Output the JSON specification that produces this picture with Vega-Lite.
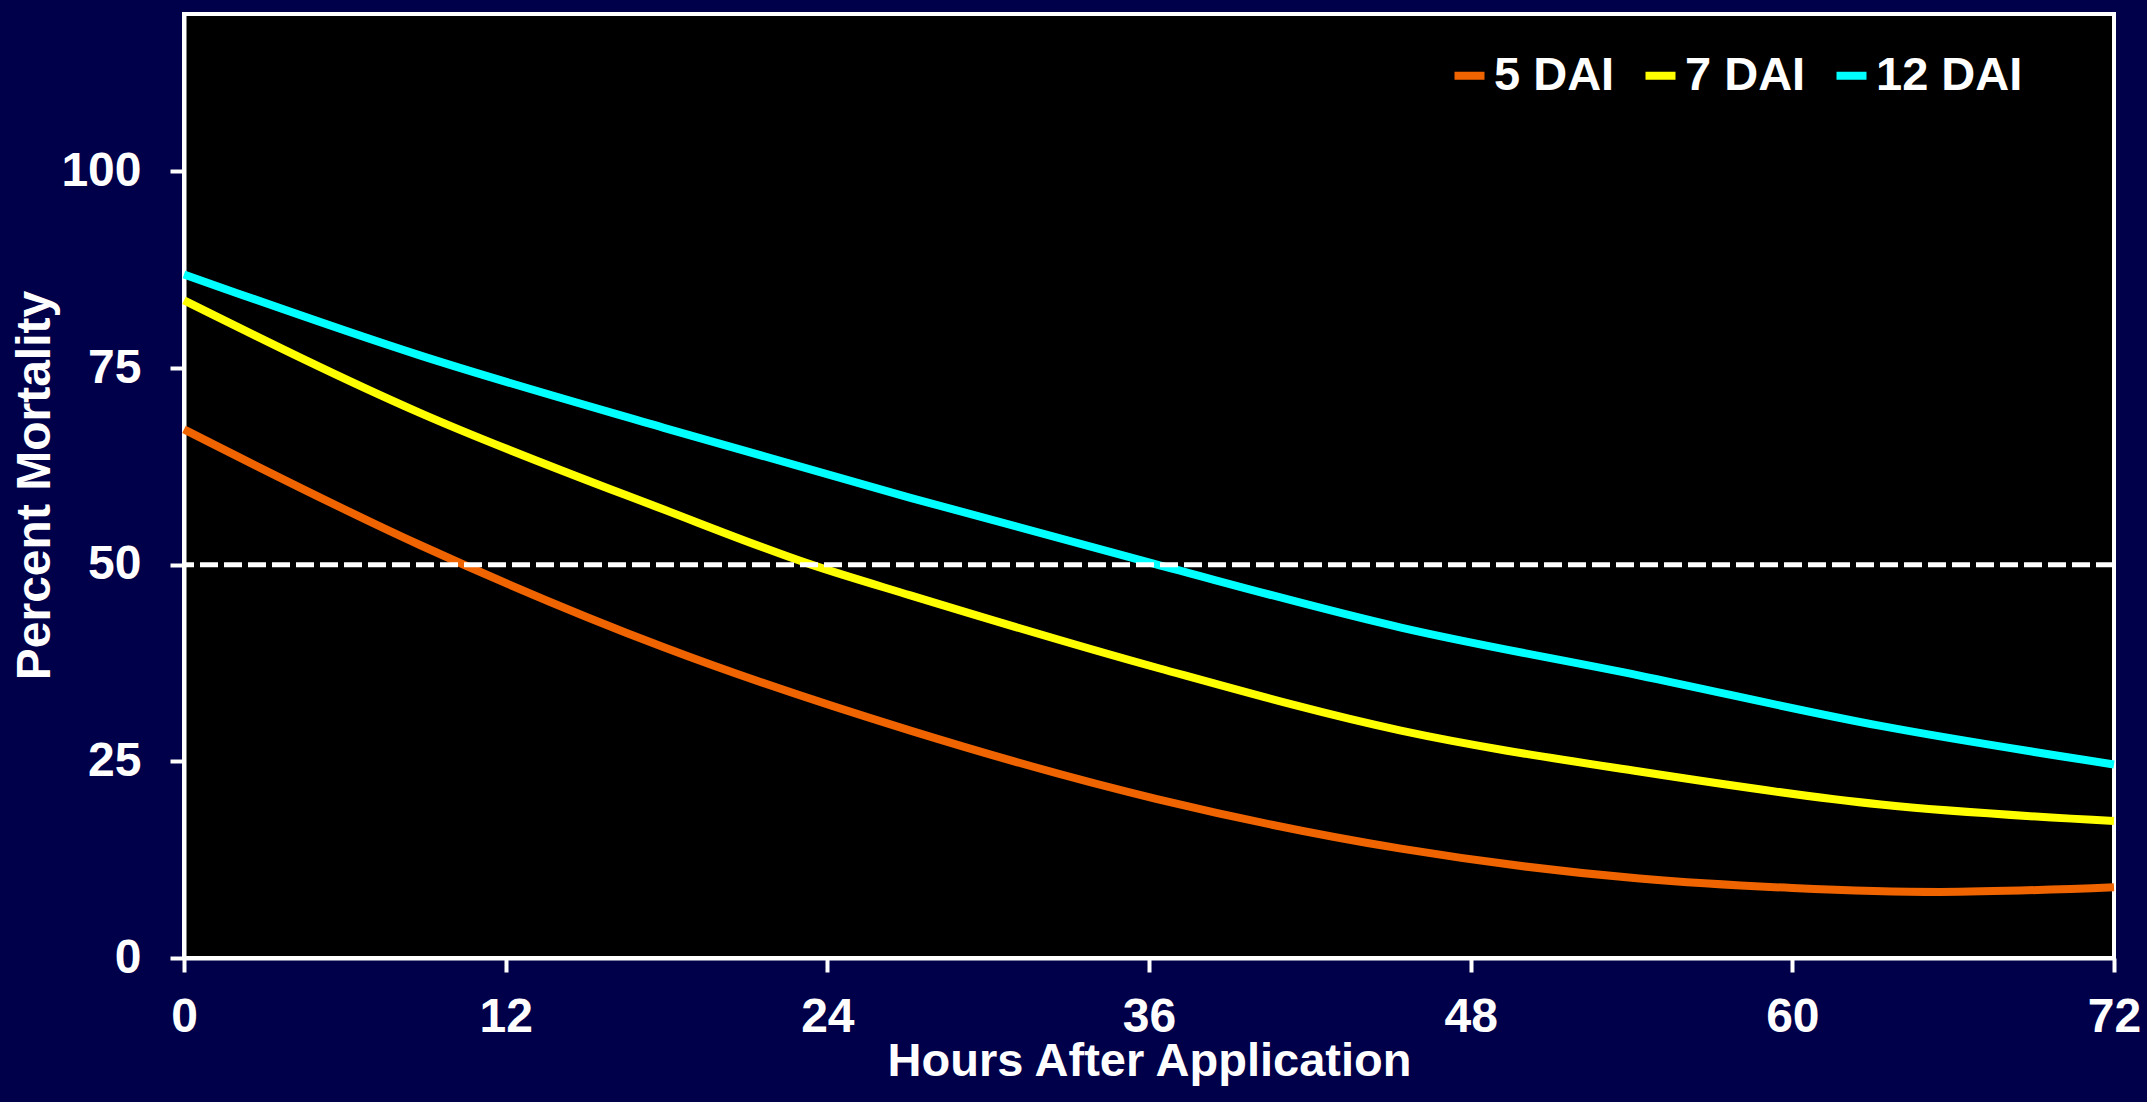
{
  "$schema": "https://vega.github.io/schema/vega-lite/v6.json",
  "width": 1930,
  "height": 944,
  "autosize": {"type": "none"},
  "padding": {"left": 184, "top": 14, "right": 33, "bottom": 144},
  "background": "#00004a",
  "config": {
    "view": {"fill": "black", "stroke": "white", "strokeWidth": 4},
    "font": "Liberation Sans",
    "axis": {
      "grid": false,
      "domainColor": "white",
      "domainWidth": 4,
      "tickColor": "white",
      "tickWidth": 4,
      "tickSize": 14,
      "labelColor": "white",
      "labelFont": "Liberation Sans",
      "labelFontSize": 48,
      "labelFontWeight": "bold",
      "labelFlush": false,
      "labelOverlap": false,
      "titleColor": "white",
      "titleFontSize": 48,
      "titleFontWeight": "bold"
    }
  },
  "layer": [
    {
      "data": {
        "values": [
          {"h": 0, "v": 67.2, "s": "5 DAI"},
          {"h": 8.8, "v": 52.5, "s": "5 DAI"},
          {"h": 17.9, "v": 39.5, "s": "5 DAI"},
          {"h": 27.1, "v": 28.9, "s": "5 DAI"},
          {"h": 36.3, "v": 20.2, "s": "5 DAI"},
          {"h": 45.4, "v": 13.9, "s": "5 DAI"},
          {"h": 54.3, "v": 10.1, "s": "5 DAI"},
          {"h": 60, "v": 8.9, "s": "5 DAI"},
          {"h": 65.5, "v": 8.4, "s": "5 DAI"},
          {"h": 72, "v": 9.0, "s": "5 DAI"},
          {"h": 0, "v": 83.6, "s": "7 DAI"},
          {"h": 8.8, "v": 69.3, "s": "7 DAI"},
          {"h": 17.9, "v": 57.0, "s": "7 DAI"},
          {"h": 23.4, "v": 50.0, "s": "7 DAI"},
          {"h": 27.1, "v": 46.1, "s": "7 DAI"},
          {"h": 36.4, "v": 36.8, "s": "7 DAI"},
          {"h": 45.4, "v": 28.9, "s": "7 DAI"},
          {"h": 54.3, "v": 23.7, "s": "7 DAI"},
          {"h": 63.3, "v": 19.5, "s": "7 DAI"},
          {"h": 72, "v": 17.4, "s": "7 DAI"},
          {"h": 0, "v": 86.9, "s": "12 DAI"},
          {"h": 8.8, "v": 76.6, "s": "12 DAI"},
          {"h": 17.9, "v": 67.4, "s": "12 DAI"},
          {"h": 27.1, "v": 58.5, "s": "12 DAI"},
          {"h": 36.2, "v": 50.1, "s": "12 DAI"},
          {"h": 45.4, "v": 42.0, "s": "12 DAI"},
          {"h": 54.3, "v": 35.9, "s": "12 DAI"},
          {"h": 63.3, "v": 29.5, "s": "12 DAI"},
          {"h": 72, "v": 24.6, "s": "12 DAI"}
        ]
      },
      "mark": {"type": "line", "strokeWidth": 8, "interpolate": "monotone"},
      "encoding": {
        "x": {
          "field": "h",
          "type": "quantitative",
          "scale": {"domain": [0, 72], "nice": false},
          "axis": {
            "values": [0, 12, 24, 36, 48, 60, 72],
            "labelPadding": 21,
            "title": "Hours After Application",
            "titleFont": "Liberation Sans",
            "titleFontSize": 47,
            "titleY": 80,
            "titleBaseline": "top"
          }
        },
        "y": {
          "field": "v",
          "type": "quantitative",
          "scale": {"domain": [0, 120], "nice": false},
          "axis": {
            "values": [0, 25, 50, 75, 100],
            "labelPadding": 29,
            "title": "Percent Mortality",
            "titleFont": "Liberation Sans",
            "titleAngle": -90,
            "titleX": -173,
            "titleY": 471,
            "titleAlign": "center",
            "titleBaseline": "top"
          }
        },
        "color": {
          "field": "s",
          "type": "nominal",
          "scale": {"domain": ["5 DAI", "7 DAI", "12 DAI"], "range": ["#F06400", "#FFFF00", "#00FFFF"]},
          "legend": {
            "orient": "none",
            "legendX": 1262,
            "legendY": 38,
            "direction": "horizontal",
            "title": null,
            "symbolType": "stroke",
            "symbolSize": 900,
            "symbolStrokeWidth": 8,
            "labelFont": "Liberation Sans",
            "labelFontSize": 47,
            "labelFontWeight": "bold",
            "labelColor": "white",
            "labelOffset": 1,
            "columnPadding": 14,
            "labelLimit": 400
          }
        }
      }
    },
    {
      "data": {"values": [{"y": 50}]},
      "mark": {"type": "rule", "color": "white", "strokeWidth": 5, "strokeDash": [18, 6]},
      "encoding": {"y": {"field": "y", "type": "quantitative"}}
    }
  ]
}
